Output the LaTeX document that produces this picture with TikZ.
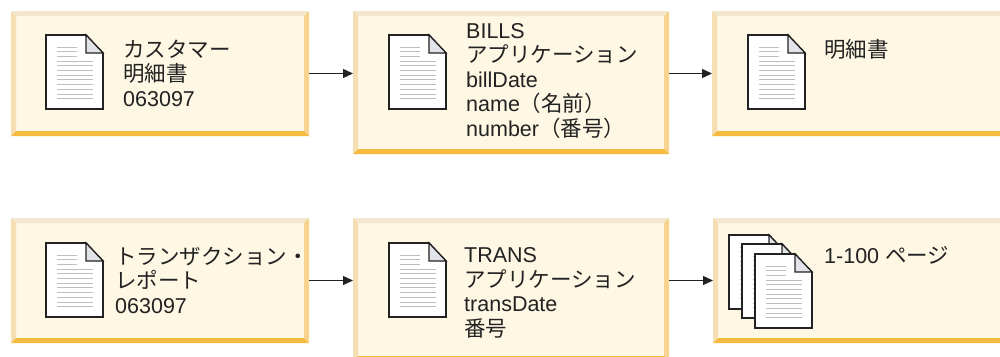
\documentclass[tikz,border=0pt]{standalone}
\usepackage{fontspec}
\setmainfont{Liberation Sans}
\newfontfamily\jp{Noto Sans CJK JP}
\usetikzlibrary{calc,arrows.meta}
\definecolor{boxfill}{RGB}{253,247,228}
\definecolor{bevtop}{RGB}{243,231,208}
\definecolor{bevleft}{RGB}{245,222,178}
\definecolor{bevright}{RGB}{246,211,142}
\definecolor{bevbottom}{RGB}{246,186,62}
\definecolor{ink}{RGB}{34,34,34}
\definecolor{rulegray}{RGB}{190,190,190}
\definecolor{foldgray}{RGB}{226,228,234}
\def\bevel#1{%
  \fill[bevtop] (#1.north west) -- (#1.north east) -- ($(#1.north east)+(-5,5)$) -- ($(#1.north west)+(5,5)$) -- cycle;
  \fill[bevleft] (#1.north west) -- ($(#1.north west)+(5,5)$) -- ($(#1.south west)+(5,-5)$) -- (#1.south west) -- cycle;
  \fill[bevright] (#1.north east) -- (#1.south east) -- ($(#1.south east)+(-5,-5)$) -- ($(#1.north east)+(-5,5)$) -- cycle;
  \fill[bevbottom] (#1.south west) -- (#1.south east) -- ($(#1.south east)+(-5,-5)$) -- ($(#1.south west)+(5,-5)$) -- cycle;}
\def\docicon(#1,#2){%
  \begin{scope}[shift={(#1,#2)}]
    \draw[ink, line width=1.6pt, fill=white, line join=miter] (0,0) -- (40,0) -- (57,18) -- (57,74) -- (0,74) -- cycle;
    \draw[ink, line width=1.2pt, fill=foldgray] (40,0) -- (40,18) -- (57,18) -- cycle;
    \foreach \k in {0,1,2} \draw[rulegray, line width=0.9pt] (11,12+4.7*\k) -- (31,12+4.7*\k);
    \foreach \k in {3,...,11} \draw[rulegray, line width=0.9pt] (11,12+4.7*\k) -- (47,12+4.7*\k);
  \end{scope}}

\begin{document}
\begin{tikzpicture}[x=1pt, y=-1pt,
  panel/.style={fill=boxfill, draw=none, inner sep=0pt, outer sep=0pt},
  txt/.style={anchor=base west, align=left, inner sep=0pt, text=ink, font=\fontsize{21.5}{24.5}\selectfont},
  arr/.style={draw=ink, line width=1.4pt, -{Triangle[length=10pt, width=9pt]}}]
  \useasboundingbox (0,0) rectangle (1000,356);

  \node[panel, minimum width=298pt, minimum height=125pt] (cust) at (160,73.5) {};
  \node[panel, minimum width=316pt, minimum height=143pt] (bills) at (511,82.5) {};
  \node[panel, minimum width=298pt, minimum height=125pt] (stmt) at (861,73.5) {};
  \node[panel, minimum width=298pt, minimum height=125pt] (trrep) at (160,280.5) {};
  \node[panel, minimum width=316pt, minimum height=143pt] (trans) at (511,289.5) {};
  \node[panel, minimum width=298pt, minimum height=125pt] (pages) at (862,280.5) {};
  \bevel{cust} \bevel{bills} \bevel{stmt} \bevel{trrep} \bevel{trans} \bevel{pages}

  \docicon(46,35)
  \docicon(389,35)
  \docicon(748,35)
  \docicon(46,243)
  \docicon(389,243)
  \docicon(729,235)
  \docicon(742,244)
  \docicon(755,254)

  % base = last line
  \node[txt] (custtxt) at (123,106) {{\jp カスタマー}\\{\jp 明細書}\\063097};
  \node[txt] (billstxt) at (466,136) {BILLS\\{\jp アプリケーション}\\billDate\\name{\jp （名前）}\\number{\jp （番号）}};
  \node[txt] (stmttxt) at (824,57) {{\jp 明細書}};
  \node[txt] (trreptxt) at (115,313) {{\jp トランザクション・}\\{\jp レポート}\\063097};
  \node[txt] (transtxt) at (464,336) {TRANS\\{\jp アプリケーション}\\transDate\\{\jp 番号}};
  \node[txt] (pagestxt) at (824,263) {1-100 {\jp ページ}};

  \draw[arr] (cust.east) -- (cust.east -| bills.west);
  \draw[arr] (bills.east |- stmt.west) -- (stmt.west);
  \draw[arr] (trrep.east) -- (trrep.east -| trans.west);
  \draw[arr] (trans.east |- pages.west) -- (pages.west);
\end{tikzpicture}
\end{document}
